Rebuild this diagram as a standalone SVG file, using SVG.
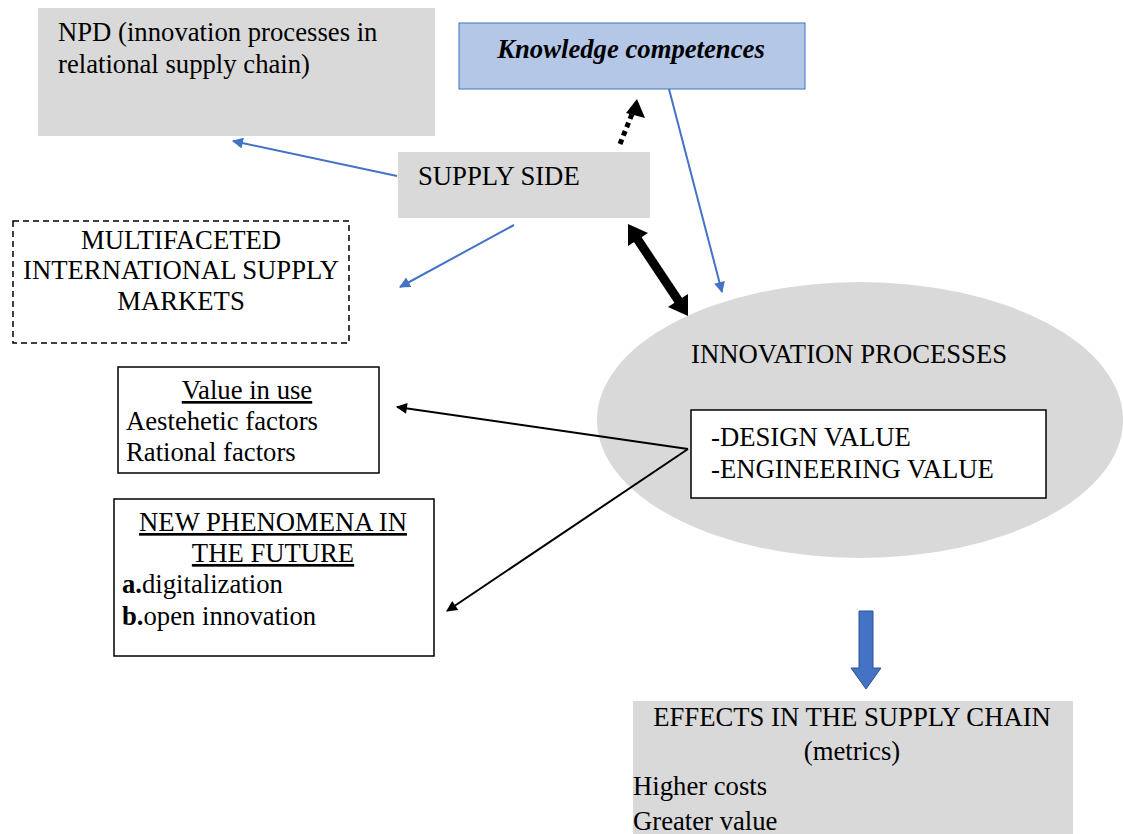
<svg xmlns="http://www.w3.org/2000/svg" width="1123" height="834" viewBox="0 0 1123 834">
<defs>
<style>
text{font-family:"Liberation Serif","Times New Roman",serif;font-size:26.7px;fill:#000}
.gray{fill:#d9d9d9}
.box{fill:#fff;stroke:#000;stroke-width:1.5}
.blue{stroke:#4472c4;stroke-width:2;fill:none}
.blk{stroke:#000;stroke-width:2;fill:none}
</style>
<marker id="ab" viewBox="0 0 10 10" refX="9" refY="5" markerWidth="13" markerHeight="11" markerUnits="userSpaceOnUse" orient="auto"><path d="M0,0 L10,5 L0,10 z" fill="#4472c4"/></marker>
<marker id="ak" viewBox="0 0 10 10" refX="9" refY="5" markerWidth="14" markerHeight="11" markerUnits="userSpaceOnUse" orient="auto"><path d="M0,0 L10,5 L0,10 z" fill="#000"/></marker>
</defs>

<g id="innovation">
<ellipse cx="860" cy="420" rx="263" ry="138" class="gray"/>
<text x="691" y="363">INNOVATION PROCESSES</text>
<rect x="691" y="410" width="355" height="88" class="box"/>
<text x="711" y="446">-DESIGN VALUE</text>
<text x="711" y="478">-ENGINEERING VALUE</text>
</g>

<g id="npd">
<rect x="38" y="8" width="397" height="128" class="gray"/>
<text x="58" y="41">NPD (innovation processes in</text>
<text x="58" y="73">relational supply chain)</text>
</g>

<g id="knowledge">
<rect x="459" y="23" width="346" height="66" fill="#b4c7e7" stroke="#4472c4" stroke-width="1"/>
<text x="631" y="58" text-anchor="middle" font-weight="bold" font-style="italic">Knowledge competences</text>
</g>

<g id="supply">
<rect x="398" y="152" width="252" height="66" class="gray"/>
<text x="418" y="185">SUPPLY SIDE</text>
</g>

<g id="markets">
<rect x="13" y="221" width="336" height="122" fill="#fff" stroke="#000" stroke-width="1.5" stroke-dasharray="6,4"/>
<text x="181" y="249" text-anchor="middle">MULTIFACETED</text>
<text x="181" y="279" text-anchor="middle">INTERNATIONAL SUPPLY</text>
<text x="181" y="310" text-anchor="middle">MARKETS</text>
</g>

<g id="valueinuse">
<rect x="118" y="367" width="261" height="106" class="box"/>
<text x="247" y="399" text-anchor="middle" text-decoration="underline">Value in use</text>
<text x="126" y="430">Aestehetic factors</text>
<text x="126" y="461">Rational factors</text>
</g>

<g id="phenomena">
<rect x="114" y="499" width="320" height="157" class="box"/>
<text x="273" y="531" text-anchor="middle" text-decoration="underline">NEW PHENOMENA IN</text>
<text x="273" y="562" text-anchor="middle" text-decoration="underline">THE FUTURE</text>
<text x="122" y="593"><tspan font-weight="bold">a.</tspan>digitalization</text>
<text x="122" y="625"><tspan font-weight="bold">b.</tspan>open innovation</text>
</g>

<g id="effects">
<rect x="633" y="701" width="440" height="140" class="gray"/>
<text x="852" y="726" text-anchor="middle">EFFECTS IN THE SUPPLY CHAIN</text>
<text x="852" y="760" text-anchor="middle">(metrics)</text>
<text x="633" y="795">Higher costs</text>
<text x="633" y="830">Greater value</text>
</g>

<g id="connectors">
<line x1="397" y1="176" x2="233" y2="141" class="blue" marker-end="url(#ab)"/>
<line x1="514" y1="225" x2="400" y2="287" class="blue" marker-end="url(#ab)"/>
<line x1="669" y1="89" x2="722" y2="292" class="blue" marker-end="url(#ab)"/>
<line x1="620" y1="144" x2="634" y2="109" stroke="#000" stroke-width="5" stroke-dasharray="5,4" fill="none"/>
<path d="M637,99 L626,113 L645,118 z" fill="#000"/>
<line x1="636" y1="237" x2="680" y2="303" stroke="#000" stroke-width="9"/>
<path d="M628,224 L628,246 L648,233 z" fill="#000"/>
<path d="M688,316 L688,294 L668,307 z" fill="#000"/>
<line x1="688" y1="449" x2="397" y2="407" class="blk" marker-end="url(#ak)"/>
<line x1="688" y1="449" x2="447" y2="611" class="blk" marker-end="url(#ak)"/>
<path d="M859,611 L873,611 L873,668 L881,668 L866,689 L851,668 L859,668 z" fill="#4472c4" stroke="#2f528f" stroke-width="1"/>
</g>
</svg>
